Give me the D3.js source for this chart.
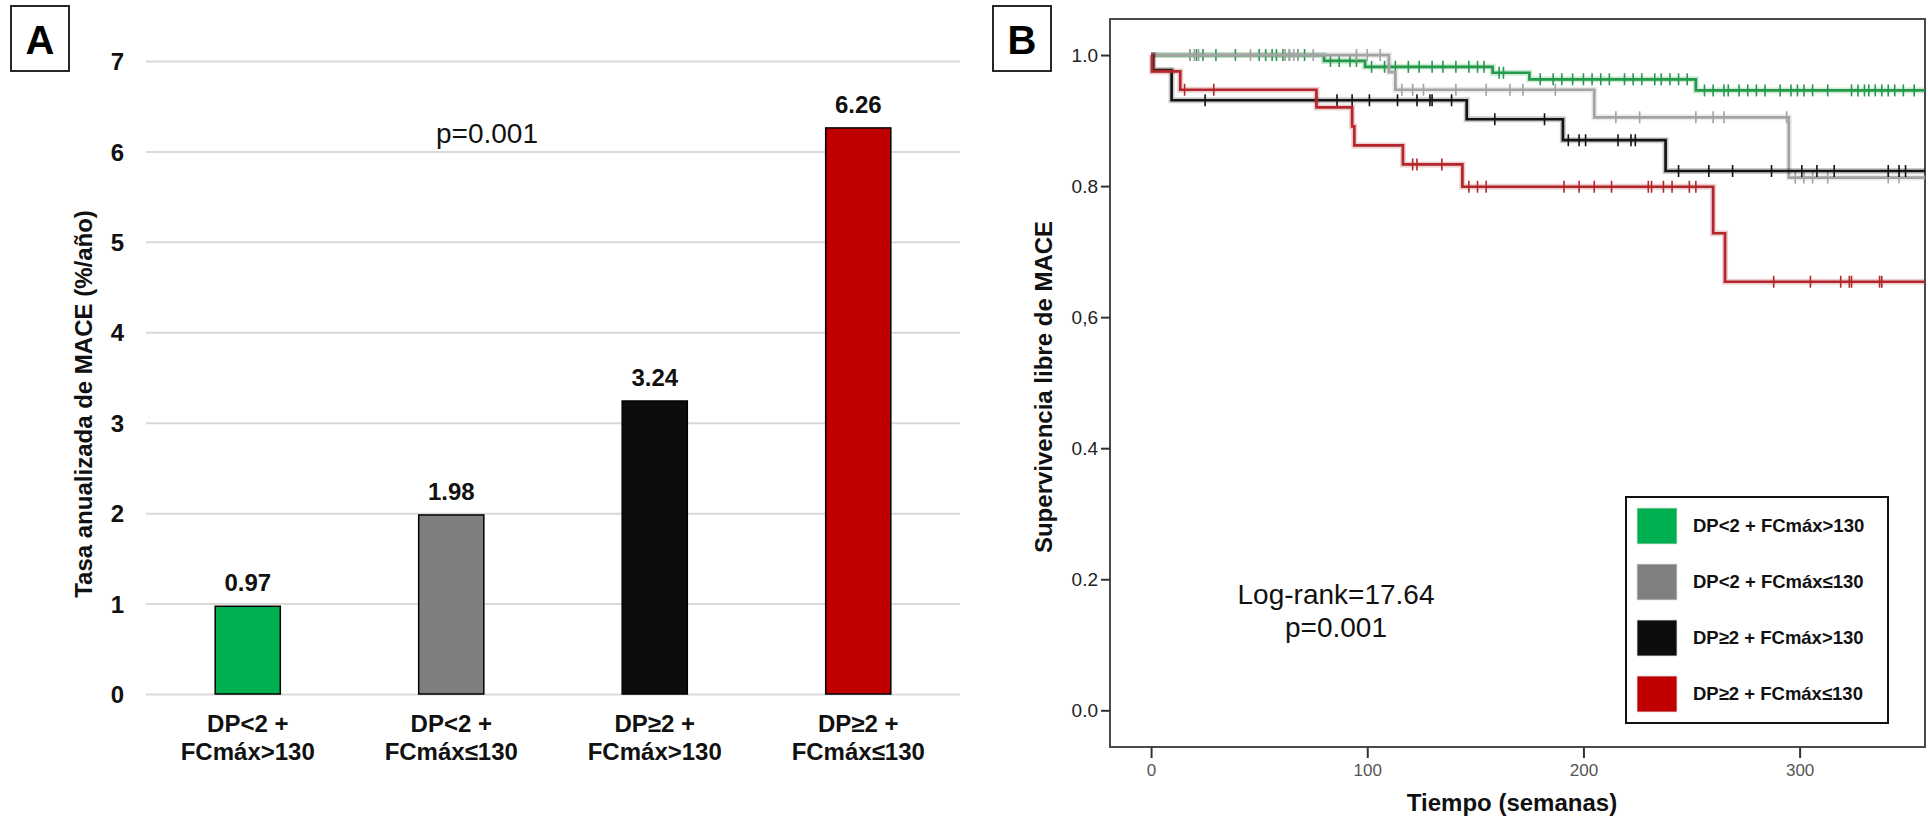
<!DOCTYPE html>
<html>
<head>
<meta charset="utf-8">
<script src="https://cdn.jsdelivr.net/npm/d3@7"></script>
<style>
  html, body { margin: 0; padding: 0; background: #ffffff; }
  svg { display: block; font-family: "Liberation Sans", Arial, sans-serif; }
</style>
</head>
<body>
<svg id="chart" width="1928" height="821"></svg>
<script>
// ---------- Panel A: annualised MACE rate by group ----------
const categories = ["DP<2 + FCmáx>130", "DP<2 + FCmáx≤130", "DP≥2 + FCmáx>130", "DP≥2 + FCmáx≤130"];
const categoryLines = [["DP<2 +", "FCmáx>130"], ["DP<2 +", "FCmáx≤130"], ["DP≥2 +", "FCmáx>130"], ["DP≥2 +", "FCmáx≤130"]];
const rates = [0.97, 1.98, 3.24, 6.26];
const rateTicks = [0, 1, 2, 3, 4, 5, 6, 7];
const barColors = ["#00b050", "#7f7f7f", "#0d0d0d", "#c00000"];

// ---------- Panel B: Kaplan-Meier curves (time in weeks, survival) ----------
const stepsGreen = [[0, 1], [80, 0.991], [99, 0.982], [158, 0.973], [175, 0.963], [252, 0.946]];
const stepsGray  = [[0, 1], [110, 0.974], [113, 0.947], [205, 0.905], [295, 0.813]];
const stepsBlack = [[0, 1], [1, 0.977], [9.5, 0.931], [146, 0.902], [190.5, 0.870], [238, 0.823]];
const stepsRed   = [[0, 1], [0.5, 0.975], [13.5, 0.947], [76.5, 0.920], [93, 0.891], [94, 0.862], [116.5, 0.833], [144, 0.799], [260, 0.728], [265.5, 0.654]];

const censorGreen = [18, 21, 24, 30, 39, 50, 53, 56, 58, 61, 64, 68, 71, 83, 87, 92, 95, 102, 108, 113, 119, 124, 130, 135, 141, 147, 151, 154, 161, 163,
  180, 186, 190, 195, 200, 204, 208, 212, 219, 223, 227, 233, 236, 240, 244, 248,
  256, 260, 265, 267, 272, 276, 280, 284, 291, 296, 299, 302, 306, 313, 324, 327, 330, 332, 335, 338, 341, 344, 348, 353];
const censorGray  = [18, 20, 22, 46, 62, 64, 66, 68, 75, 95, 100, 106, 116, 121, 126, 141, 155, 166, 172, 187, 215, 226, 252, 260, 265, 294, 298, 302, 306, 313, 341, 346];
const censorBlack = [25, 86, 93, 101, 114, 123, 129, 130, 139, 159, 182, 193, 198, 201, 216, 222, 224, 244, 258, 269, 287, 301, 308, 316, 341, 346, 349];
const censorRed   = [15.5, 29, 121, 123, 134.5, 147, 151, 155, 191, 198, 205, 213, 230, 231.5, 237, 241, 249, 252, 288, 305, 319, 323, 324, 337, 338];

const timeTicks = [0, 100, 200, 300];
const survTicks = [0, 0.2, 0.4, 0.6, 0.8, 1.0];
const survTickLabels = ["0.0", "0.2", "0.4", "0,6", "0.8", "1.0"];
const lineColors = ["#23994a", "#a3a3a3", "#141414", "#b3262b"];
const legendColors = ["#00b050", "#808080", "#0d0d0d", "#c00000"];

const svg = d3.select("#chart");

// ===== Panel A =====
const gA = svg.append("g");
const xA = d3.scaleBand().domain(categories).range([146, 960]).paddingInner(0.68).paddingOuter(0.34);
const yA = d3.scaleLinear().domain([0, 7]).range([694, 61]);

// panel letter
gA.append("rect").attr("x", 11).attr("y", 6).attr("width", 58).attr("height", 65)
  .attr("fill", "none").attr("stroke", "#111").attr("stroke-width", 1.8);
gA.append("text").attr("x", 40).attr("y", 54).attr("text-anchor", "middle")
  .attr("font-size", 40).attr("font-weight", "bold").attr("fill", "#000").text("A");

// gridlines + tick labels
const yAxisA = d3.axisLeft(yA).tickValues(rateTicks).tickSize(-(960 - 146)).tickFormat(d3.format("d")).tickPadding(22);
const axA = gA.append("g").attr("transform", "translate(146,0)").call(yAxisA);
axA.select(".domain").remove();
axA.selectAll(".tick line").attr("stroke", "#d9d9d9").attr("stroke-width", 2);
axA.selectAll(".tick text").attr("font-size", 24).attr("font-weight", "bold").attr("fill", "#111")
  .attr("font-family", "Liberation Sans, Arial, sans-serif").attr("dy", "0.36em");

// bars
gA.selectAll("rect.bar").data(rates).join("rect").attr("class", "bar")
  .attr("x", (d, i) => xA(categories[i]))
  .attr("y", d => yA(d))
  .attr("width", xA.bandwidth())
  .attr("height", d => yA(0) - yA(d))
  .attr("fill", (d, i) => barColors[i])
  .attr("stroke", "#000").attr("stroke-width", 1.5);

// value labels
gA.selectAll("text.val").data(rates).join("text").attr("class", "val")
  .attr("x", (d, i) => xA(categories[i]) + xA.bandwidth() / 2)
  .attr("y", d => yA(d) - 15)
  .attr("text-anchor", "middle").attr("font-size", 24).attr("font-weight", "bold").attr("fill", "#111")
  .text(d => d.toFixed(2));

// category labels
categoryLines.forEach((lines, i) => {
  const cx = xA(categories[i]) + xA.bandwidth() / 2;
  lines.forEach((ln, j) => {
    gA.append("text").attr("x", cx).attr("y", 732 + j * 28).attr("text-anchor", "middle")
      .attr("font-size", 24).attr("font-weight", "bold").attr("fill", "#111").text(ln);
  });
});

// axis title
gA.append("text").attr("transform", "translate(92,404) rotate(-90)").attr("text-anchor", "middle")
  .attr("font-size", 24).attr("font-weight", "bold").attr("fill", "#111")
  .text("Tasa anualizada de MACE (%/año)");

gA.append("text").attr("x", 487).attr("y", 143).attr("text-anchor", "middle")
  .attr("font-size", 28).attr("fill", "#111").text("p=0.001");

// ===== Panel B =====
const gB = svg.append("g");
const xB = d3.scaleLinear().domain([-19, 358]).range([1110, 1925]);
const yB = d3.scaleLinear().domain([-0.056, 1.055]).range([747, 19]);

gB.append("rect").attr("x", 993).attr("y", 6).attr("width", 58).attr("height", 65)
  .attr("fill", "none").attr("stroke", "#111").attr("stroke-width", 1.8);
gB.append("text").attr("x", 1022).attr("y", 54).attr("text-anchor", "middle")
  .attr("font-size", 40).attr("font-weight", "bold").attr("fill", "#000").text("B");

// plot frame
gB.append("rect").attr("x", xB(-19)).attr("y", yB(1.055)).attr("width", xB(358) - xB(-19)).attr("height", yB(-0.056) - yB(1.055))
  .attr("fill", "none").attr("stroke", "#4a4a4a").attr("stroke-width", 2);

// axes
const axYB = gB.append("g").attr("transform", `translate(${xB(-19)},0)`)
  .call(d3.axisLeft(yB).tickValues(survTicks).tickSize(9).tickPadding(3).tickFormat((d, i) => survTickLabels[i]));
axYB.select(".domain").remove();
axYB.selectAll(".tick line").attr("stroke", "#333").attr("stroke-width", 2);
axYB.selectAll(".tick text").attr("font-size", 19).attr("fill", "#222").attr("font-family", "Liberation Sans, Arial, sans-serif");

const axXB = gB.append("g").attr("transform", `translate(0,${yB(-0.056)})`)
  .call(d3.axisBottom(xB).tickValues(timeTicks).tickSize(11).tickPadding(6).tickFormat(d3.format("d")));
axXB.select(".domain").remove();
axXB.selectAll(".tick line").attr("stroke", "#333").attr("stroke-width", 2);
axXB.selectAll(".tick text").attr("font-size", 17).attr("fill", "#555").attr("font-family", "Liberation Sans, Arial, sans-serif");

// titles
gB.append("text").attr("transform", "translate(1052,387) rotate(-90)").attr("text-anchor", "middle")
  .attr("font-size", 24).attr("font-weight", "bold").attr("fill", "#111").text("Supervivencia libre de MACE");
gB.append("text").attr("x", 1512).attr("y", 811).attr("text-anchor", "middle")
  .attr("font-size", 24).attr("font-weight", "bold").attr("fill", "#111").text("Tiempo (semanas)");

// curves
const tEnd = 358;
function levelAt(steps, t) {
  let s = steps[0][1];
  for (const [st, sv] of steps) { if (st <= t) s = sv; }
  return s;
}
function stepPath(steps) {
  const pts = steps.map(d => [d[0], d[1]]);
  pts.push([tEnd, steps[steps.length - 1][1]]);
  return d3.line().x(d => xB(d[0])).y(d => yB(d[1])).curve(d3.curveStepAfter)(pts);
}
const allSteps = [stepsGreen, stepsGray, stepsBlack, stepsRed];
const allCensor = [censorGreen, censorGray, censorBlack, censorRed];

gB.append("clipPath").attr("id", "plotClip").append("rect")
  .attr("x", xB(-19)).attr("y", yB(1.055)).attr("width", xB(358) - xB(-19)).attr("height", yB(-0.056) - yB(1.055));
const gCurves = gB.append("g").attr("clip-path", "url(#plotClip)");

allSteps.forEach((steps, i) => {
  const g = gCurves.append("g");
  g.append("path").attr("d", stepPath(steps)).attr("fill", "none")
    .attr("stroke", lineColors[i]).attr("stroke-width", 6).attr("stroke-opacity", 0.22);
  g.append("path").attr("d", stepPath(steps)).attr("fill", "none")
    .attr("stroke", lineColors[i]).attr("stroke-width", 2.7);
  g.selectAll("line.cens").data(allCensor[i]).join("line").attr("class", "cens")
    .attr("x1", t => xB(t)).attr("x2", t => xB(t))
    .attr("y1", t => yB(levelAt(steps, t)) - 6).attr("y2", t => yB(levelAt(steps, t)) + 6)
    .attr("stroke", lineColors[i]).attr("stroke-width", 1.6);
});

// log-rank annotation
gB.append("text").attr("x", 1336).attr("y", 604).attr("text-anchor", "middle")
  .attr("font-size", 28).attr("fill", "#111").text("Log-rank=17.64");
gB.append("text").attr("x", 1336).attr("y", 637).attr("text-anchor", "middle")
  .attr("font-size", 28).attr("fill", "#111").text("p=0.001");

// legend
const gL = gB.append("g");
gL.append("rect").attr("x", 1626).attr("y", 497).attr("width", 262).attr("height", 226)
  .attr("fill", "#fff").attr("stroke", "#111").attr("stroke-width", 2);
categories.forEach((c, i) => {
  gL.append("rect").attr("x", 1637).attr("y", 508 + i * 56).attr("width", 40).attr("height", 36)
    .attr("fill", legendColors[i]).attr("stroke", "#e0e0e0").attr("stroke-width", 0.8);
  gL.append("text").attr("x", 1693).attr("y", 526 + i * 56).attr("dy", "0.35em")
    .attr("font-size", 18.5).attr("font-weight", "bold").attr("fill", "#111").text(c);
});
</script>
</body>
</html>
